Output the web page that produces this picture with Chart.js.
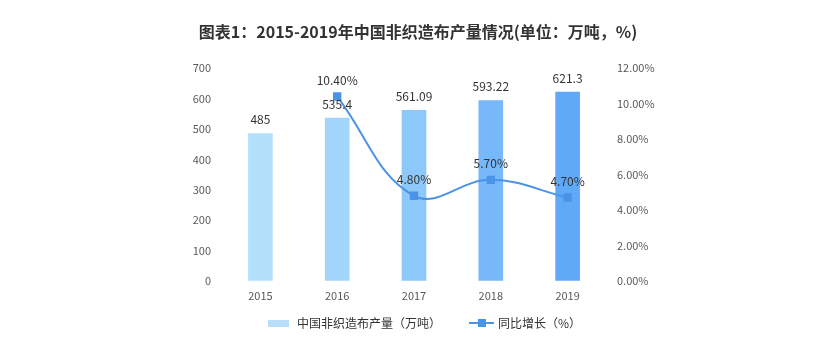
<!DOCTYPE html>
<html>
<head>
<meta charset="utf-8">
<script src="https://cdn.jsdelivr.net/npm/chart.js@4/dist/chart.umd.min.js"></script>
<style>
  html, body { margin: 0; padding: 0; background: #fff; }
  #wrap { width: 840px; height: 360px; }
</style>
</head>
<body>
<div id="wrap"><canvas id="chart" width="840" height="360"></canvas></div>
<script>
const years = ["2015", "2016", "2017", "2018", "2019"];
const output = [485, 535.4, 561.09, 593.22, 621.3];
const outputLabels = ["485", "535.4", "561.09", "593.22", "621.3"];
const growth = [null, 10.4, 4.8, 5.7, 4.7];
const barColors = ["#b5e0fb", "#a2d5fb", "#8dc8fa", "#76b8f8", "#60a9f7"];
const lineColor = "#4a93e6";

const FONT = "'Noto Sans CJK SC', 'Noto Sans', sans-serif";

// legend icons (drawn into a 36px wide box, text follows at +42)
function barIcon() {
  const c = document.createElement("canvas");
  c.width = 36; c.height = 7;
  const g = c.getContext("2d");
  g.fillStyle = "#b9defa";
  g.fillRect(13, 0, 21, 7);
  return c;
}
function lineIcon() {
  const c = document.createElement("canvas");
  c.width = 40; c.height = 8;
  const g = c.getContext("2d");
  g.strokeStyle = lineColor;
  g.lineWidth = 2;
  g.beginPath(); g.moveTo(15, 4); g.lineTo(40, 4); g.stroke();
  g.fillStyle = lineColor;
  g.fillRect(24, 0, 8, 8);
  return c;
}

// value labels above bars and points
const valueLabels = {
  id: "valueLabels",
  afterDatasetsDraw(chart) {
    const ctx = chart.ctx;
    ctx.save();
    ctx.font = "12px " + FONT;
    ctx.fillStyle = "#333";
    ctx.textAlign = "center";
    ctx.textBaseline = "middle";
    chart.getDatasetMeta(0).data.forEach((el, i) => {
      ctx.fillText(outputLabels[i], el.x, el.y - 14);
    });
    chart.getDatasetMeta(1).data.forEach((el, i) => {
      if (growth[i] == null) return;
      ctx.fillText(growth[i].toFixed(2) + "%", el.x, el.y - 16);
    });
    ctx.restore();
  },
};

new Chart(document.getElementById("chart"), {
  data: {
    labels: years,
    datasets: [
      {
        type: "bar",
        label: "中国非织造布产量（万吨）",
        data: output,
        backgroundColor: barColors,
        barThickness: 24,
        yAxisID: "y",
        order: 2,
      },
      {
        type: "line",
        label: "同比增长（%）",
        data: growth,
        borderColor: lineColor,
        backgroundColor: lineColor,
        borderWidth: 2,
        tension: 0.4,
        pointStyle: "rect",
        pointRadius: 4.5,
        pointBackgroundColor: lineColor,
        pointBorderColor: lineColor,
        yAxisID: "y1",
        order: 1,
      },
    ],
  },
  options: {
    responsive: false,
    animation: false,
    layout: { padding: { left: 170, right: 174, top: 0, bottom: 21 } },
    plugins: {
      title: {
        display: true,
        text: "图表1：2015-2019年中国非织造布产量情况(单位：万吨，%)",
        color: "#333",
        font: { family: FONT, size: 16, weight: "bold" },
        padding: { top: 22, bottom: 27 },
      },
      legend: {
        position: "bottom",
        labels: {
          usePointStyle: true,
          pointStyleWidth: 36,
          color: "#333",
          font: { family: FONT, size: 12 },
          padding: 15,
          generateLabels: (chart) => [
            { text: chart.data.datasets[0].label, pointStyle: barIcon(), datasetIndex: 0, fontColor: "#333" },
            { text: chart.data.datasets[1].label, pointStyle: lineIcon(), datasetIndex: 1, fontColor: "#333" },
          ],
        },
      },
      tooltip: { enabled: false },
    },
    scales: {
      x: {
        grid: { display: false },
        border: { display: false },
        ticks: { color: "#595959", font: { family: FONT, size: 11 }, padding: 0 },
      },
      y: {
        position: "left",
        min: 0,
        max: 700,
        grid: { display: false },
        border: { display: false },
        ticks: { stepSize: 100, color: "#595959", font: { family: FONT, size: 11 }, padding: 3 },
        afterFit: (s) => { s.width = 52; },
      },
      y1: {
        position: "right",
        min: 0,
        max: 12,
        grid: { display: false },
        border: { display: false },
        ticks: {
          stepSize: 2,
          color: "#595959",
          font: { family: FONT, size: 11 },
          padding: 3,
          callback: (v) => v.toFixed(2) + "%",
        },
        afterFit: (s) => { s.width = 60; },
      },
    },
  },
  plugins: [valueLabels],
});
</script>
</body>
</html>
